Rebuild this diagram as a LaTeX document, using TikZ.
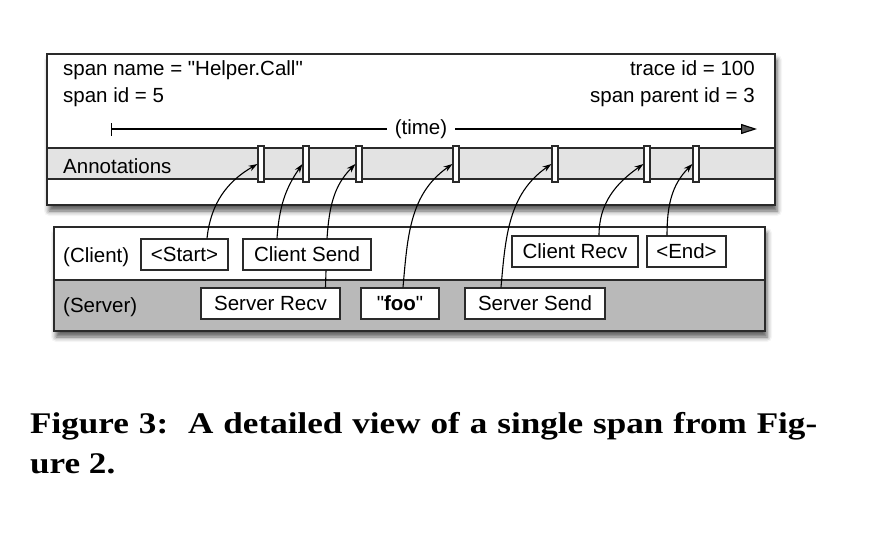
\documentclass[tikz,border=0pt]{standalone}
\usepackage{fontspec}
\setmainfont{Liberation Sans}[Ligatures=TeXOff]
\newfontfamily\capfont{Liberation Serif}[FakeStretch=1.17]
\usetikzlibrary{arrows.meta,shadows.blur}
\definecolor{bandgray}{HTML}{E3E3E3}
\definecolor{servergray}{HTML}{B9B9B9}
\definecolor{edgegray}{HTML}{2A2A2A}
\tikzset{
  every node/.style={font=\fontsize{20.5}{27}\selectfont},
  panel/.style={draw=edgegray, line width=1.4pt, fill=white,
    blur shadow={shadow xshift=2pt, shadow yshift=-6pt, shadow blur radius=5pt, shadow opacity=65}},
  evbox/.style={draw=edgegray, line width=1.2pt, fill=white, minimum height=31pt, inner sep=0pt},
  tick/.style={draw=edgegray, line width=1.1pt, fill=white, minimum width=6pt, minimum height=36pt, inner sep=0pt},
  ann/.style={-{Stealth[length=9pt,width=6pt]}, line width=1.1pt},
}
\begin{document}
\begin{tikzpicture}[x=1pt,y=1pt]
\useasboundingbox (0,0) rectangle (890,-538);
% span panel
\draw [panel] (47,-54) rectangle (775,-205);
\draw [draw=edgegray, line width=1.1pt, fill=bandgray] (47,-148) rectangle (775,-179);
\node [anchor=base west, inner sep=0pt] (spname) at (63,-75) {span name = "Helper.Call"};
\node [anchor=base west, inner sep=0pt] (spid) at (63,-102) {span id = 5};
\node [anchor=base east, inner sep=0pt] (trid) at (755,-75) {trace id = 100};
\node [anchor=base east, inner sep=0pt] (parid) at (755,-102) {span parent id = 3};
\node [anchor=base west, inner sep=0pt] (annot) at (63,-173) {Annotations};
\coordinate (tbeg) at (111,-129);
\coordinate (tend) at (757,-129);
\draw [line width=1.1pt, {Bar[width=13pt]}-{Triangle[length=16pt,width=10pt]}] (tbeg) -- (tend);
\node [fill=white, inner xsep=8pt, inner ysep=1pt] (timelbl) at (421,-129) {(time)};
\foreach \x [count=\k] in {261,306,359,456,555,647,696}
  \node [tick] (t\k) at (\x,-164) {};

% client / server panel
\draw [panel] (54,-227) rectangle (765,-331);
\draw [draw=edgegray, line width=1.1pt, fill=servergray] (54,-280) rectangle (765,-331);
\node [anchor=base west, inner sep=0pt] (client) at (63,-262) {(Client)};
\node [anchor=base west, inner sep=0pt] (server) at (63,-312) {(Server)};
\node [evbox, minimum width=87pt] (start) at (184.5,-254.5) {<Start>};
\node [evbox, minimum width=128pt] (csend) at (307,-254.5) {Client Send};
\node [evbox, minimum width=126pt] (crecv) at (575,-251.5) {Client Recv};
\node [evbox, minimum width=79pt] (end) at (686.5,-251.5) {<End>};
\node [evbox, minimum width=139pt] (srecv) at (270.5,-303.5) {Server Recv};
\node [evbox, minimum width=78pt] (foo) at (400,-303.5) {"\textbf{foo}"};
\node [evbox, minimum width=140pt] (ssend) at (535,-303.5) {Server Send};

\draw [line width=1.1pt] ([xshift=19pt]csend.south) -- ([xshift=55pt]srecv.north);
\draw [ann] ([xshift=22.5pt]start.north) to [out=84,in=210] (t1.west);
\draw [ann] ([xshift=-30pt]csend.north) to [out=86,in=235] (t2.west);
\draw [ann] ([xshift=20pt]csend.north) to [out=86,in=225] (t3.west);
\draw [ann] ([xshift=3pt]foo.north) to [out=85,in=215] (t4.west);
\draw [ann] ([xshift=-34pt]ssend.north) to [out=85,in=215] (t5.west);
\draw [ann] ([xshift=24pt]crecv.north) to [out=90,in=215] (t6.west);
\draw [ann] ([xshift=-19.5pt]end.north) to [out=90,in=225] (t7.west);

\node [anchor=north west, inner sep=0pt, text width=787pt, align=justify,
  font=\capfont\bfseries\fontsize{30}{40}\selectfont] (caption) at (30,-412.5)
  {Figure 3:\ \ A detailed view of a single span from Fig-\linebreak ure 2.};
\end{tikzpicture}
\end{document}
